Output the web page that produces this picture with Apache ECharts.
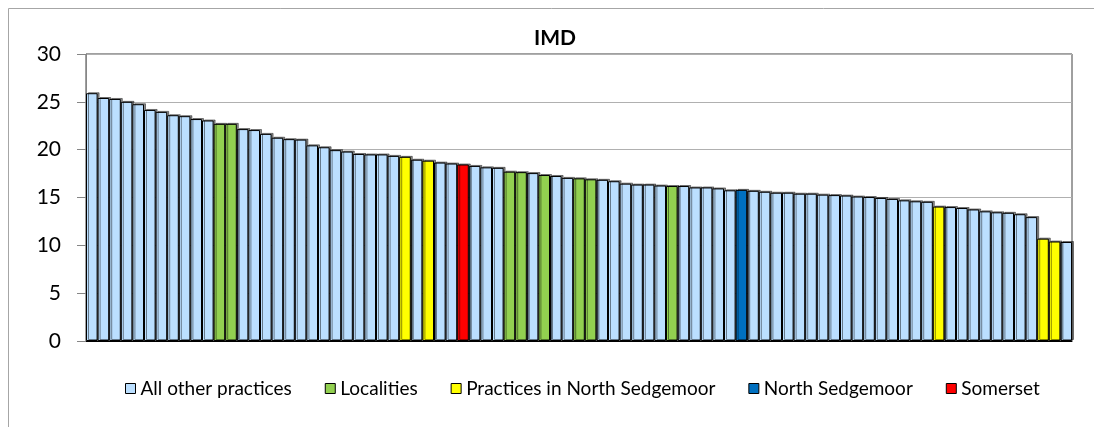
<!DOCTYPE html>
<html>
<head>
<meta charset="utf-8">
<title>IMD</title>
<script src="https://cdn.jsdelivr.net/npm/echarts@6/dist/echarts.min.js"></script>
<style>
    html, body { margin: 0; padding: 0; background: #fff; }
    #chart { width: 1094px; height: 427px; }
</style>
</head>
<body>
<div id="chart"></div>
<script>
(function() {
    'use strict';

    // IMD score per practice, sorted high to low
    var imdValues = [
        25.9, 25.4, 25.3, 25.0, 24.75, 24.15, 23.95, 23.6, 23.5, 23.2,
        23.05, 22.7, 22.7, 22.15, 22.05, 21.65, 21.25, 21.1, 21.05, 20.45,
        20.25, 19.95, 19.8, 19.55, 19.5, 19.5, 19.35, 19.25, 18.95, 18.85,
        18.65, 18.55, 18.45, 18.3, 18.15, 18.1, 17.7, 17.65, 17.55, 17.35,
        17.25, 17.05, 17.0, 16.9, 16.85, 16.7, 16.45, 16.35, 16.35, 16.25,
        16.2, 16.2, 16.05, 16.05, 15.95, 15.75, 15.8, 15.7, 15.6, 15.5,
        15.5, 15.4, 15.4, 15.3, 15.25, 15.2, 15.1, 15.05, 14.95, 14.85,
        14.7, 14.6, 14.55, 14.05, 14.0, 13.9, 13.75, 13.55, 13.45, 13.4,
        13.25, 12.95, 10.7, 10.4, 10.35
    ];

    // bar positions (1-based) of the highlighted groups
    var localityBars = [12, 13, 37, 38, 40, 43, 44, 51];
    var nsPracticeBars = [28, 30, 74, 83, 84];
    var northSedgemoorBars = [57];
    var somersetBars = [33];

    var seriesNames = ['All other practices', 'Localities', 'Practices in North Sedgemoor', 'North Sedgemoor', 'Somerset'];
    var seriesColors = ['#BBDFFF', '#92D050', '#FFFF00', '#0070C0', '#FF0000'];

    var yTicks = [0, 5, 10, 15, 20, 25, 30];

    var categories = imdValues.map(function(v, i) { return String(i + 1); });

    function groupOf(pos) {
        if (localityBars.indexOf(pos) >= 0) return 1;
        if (nsPracticeBars.indexOf(pos) >= 0) return 2;
        if (northSedgemoorBars.indexOf(pos) >= 0) return 3;
        if (somersetBars.indexOf(pos) >= 0) return 4;
        return 0;
    }

    var series = seriesNames.map(function(name, g) {
        return {
            name: name,
            type: 'bar',
            barGap: '-100%',
            barCategoryGap: 0,
            data: imdValues.map(function(v, i) {
                return groupOf(i + 1) === g ? v : '-';
            }),
            itemStyle: {
                color: seriesColors[g],
                borderColor: '#000',
                borderWidth: 1,
                shadowColor: 'rgba(0,0,0,0.45)',
                shadowBlur: 0,
                shadowOffsetX: 2,
                shadowOffsetY: -1
            },
            emphasis: { disabled: true }
        };
    });

    var option = {
        animation: false,
        textStyle: { fontFamily: 'Lato' },
        title: {
            text: 'IMD',
            left: 529,
            top: 23,
            textStyle: { fontFamily: 'Lato', fontSize: 21, fontWeight: 'bold', color: '#000' }
        },
        legend: {
            data: seriesNames,
            top: 374,
            left: 120,
            icon: 'rect',
            itemWidth: 10,
            itemHeight: 10,
            itemGap: 33,
            itemStyle: { borderColor: '#000', borderWidth: 1, shadowBlur: 0, shadowOffsetX: 0, shadowOffsetY: 0 },
            textStyle: { fontFamily: 'Lato', fontSize: 19, color: '#000' }
        },
        grid: {
            left: 86,
            right: 22,
            top: 54,
            bottom: 86,
            show: true,
            borderColor: '#404040',
            borderWidth: 1
        },
        xAxis: {
            type: 'category',
            data: categories,
            axisLine: { lineStyle: { color: '#000', width: 1 } },
            axisTick: { show: false },
            axisLabel: { show: false }
        },
        yAxis: {
            type: 'value',
            min: yTicks[0],
            max: yTicks[yTicks.length - 1],
            interval: 5,
            axisLine: { show: true, lineStyle: { color: '#868686' } },
            axisTick: { show: true, length: 9, lineStyle: { color: '#868686' } },
            axisLabel: { margin: 25, fontFamily: 'Lato', fontSize: 21, color: '#000' },
            splitLine: { lineStyle: { color: '#B0B0B0' } }
        },
        graphic: [{
            type: 'rect',
            shape: { x: 8.5, y: 8.5, width: 1100, height: 440 },
            style: { fill: 'none', stroke: '#A6A6A6', lineWidth: 1 },
            silent: true
        }],
        series: series
    };

    var myChart = echarts.init(document.getElementById('chart'));
    myChart.setOption(option);
})();
</script>
</body>
</html>
